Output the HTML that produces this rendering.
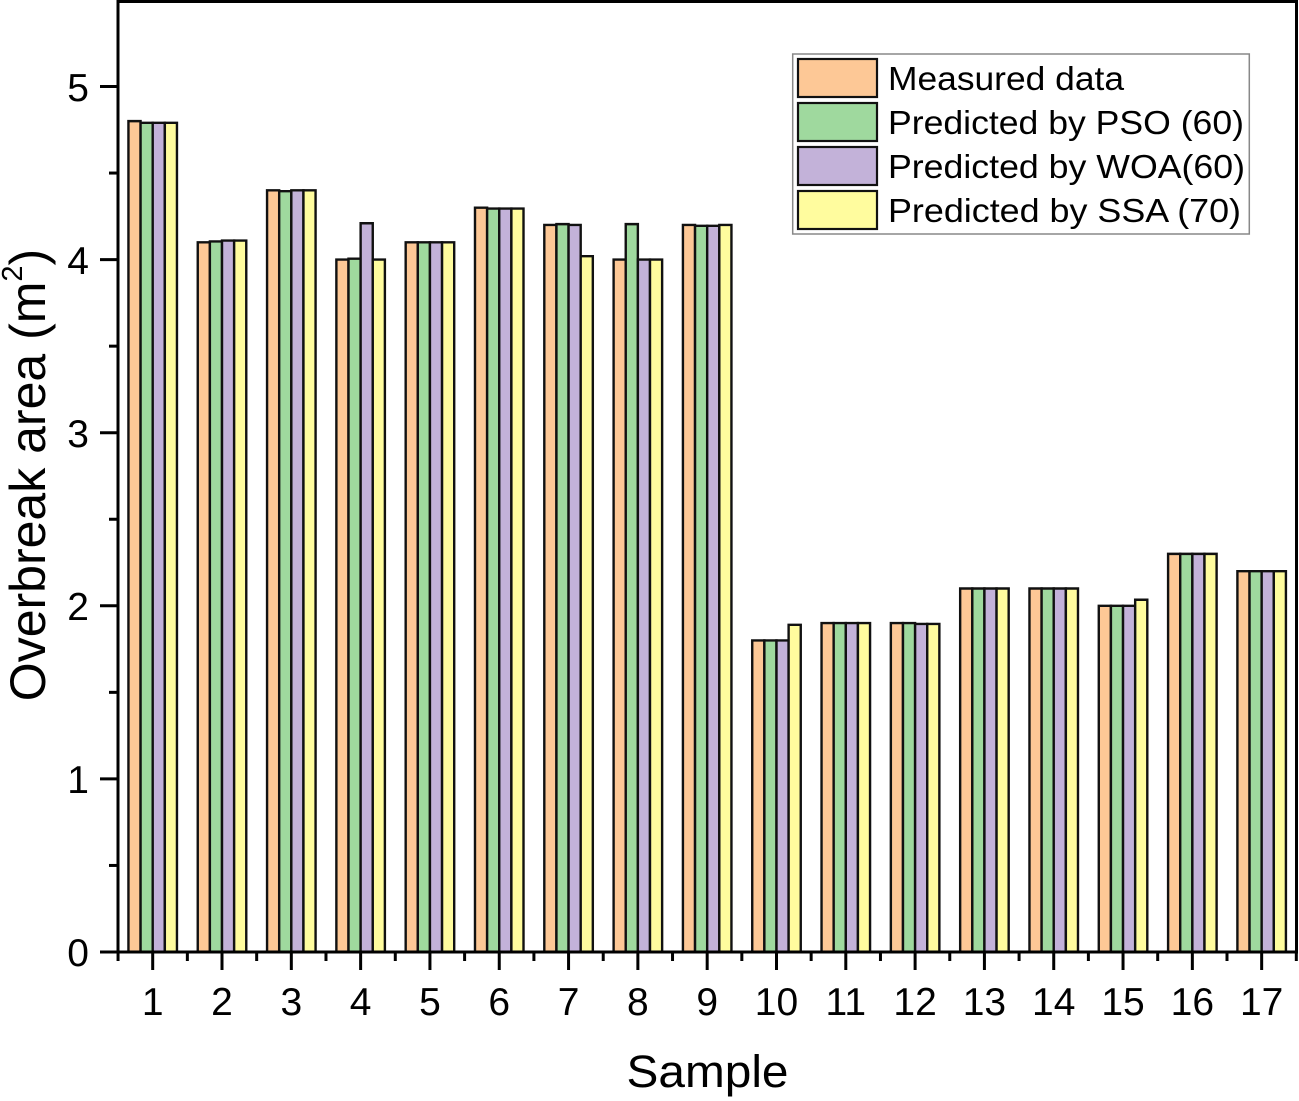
<!DOCTYPE html>
<html>
<head>
<meta charset="utf-8">
<style>
html,body{margin:0;padding:0;background:#fff;}
svg{display:block;}
text{font-family:"Liberation Sans",Arial,sans-serif;fill:#000;}
</style>
</head>
<body>
<svg width="1299" height="1101" viewBox="0 0 1299 1101" xmlns="http://www.w3.org/2000/svg">
<defs>
<style>
.o{fill:#FDC896;}
.g{fill:#9FD99E;}
.p{fill:#C3B2D9;}
.y{fill:#FFFC9E;}
.b rect{stroke:#111;stroke-width:2.4;vector-effect:non-scaling-stroke;}
</style>
</defs>

<!-- bars -->
<g class="b">
<g transform="translate(152.70,952) scale(1,-173.1)"><rect class="o" x="-24.26" y="0" width="12.13" height="4.8"/><rect class="g" x="-12.13" y="0" width="12.13" height="4.79"/><rect class="p" x="0" y="0" width="12.13" height="4.79"/><rect class="y" x="12.13" y="0" width="12.13" height="4.79"/></g>
<g transform="translate(222.01,952) scale(1,-173.1)"><rect class="o" x="-24.26" y="0" width="12.13" height="4.1"/><rect class="g" x="-12.13" y="0" width="12.13" height="4.105"/><rect class="p" x="0" y="0" width="12.13" height="4.11"/><rect class="y" x="12.13" y="0" width="12.13" height="4.11"/></g>
<g transform="translate(291.32,952) scale(1,-173.1)"><rect class="o" x="-24.26" y="0" width="12.13" height="4.4"/><rect class="g" x="-12.13" y="0" width="12.13" height="4.395"/><rect class="p" x="0" y="0" width="12.13" height="4.4"/><rect class="y" x="12.13" y="0" width="12.13" height="4.4"/></g>
<g transform="translate(360.63,952) scale(1,-173.1)"><rect class="o" x="-24.26" y="0" width="12.13" height="4.0"/><rect class="g" x="-12.13" y="0" width="12.13" height="4.005"/><rect class="p" x="0" y="0" width="12.13" height="4.21"/><rect class="y" x="12.13" y="0" width="12.13" height="4.0"/></g>
<g transform="translate(429.94,952) scale(1,-173.1)"><rect class="o" x="-24.26" y="0" width="12.13" height="4.1"/><rect class="g" x="-12.13" y="0" width="12.13" height="4.1"/><rect class="p" x="0" y="0" width="12.13" height="4.1"/><rect class="y" x="12.13" y="0" width="12.13" height="4.1"/></g>
<g transform="translate(499.25,952) scale(1,-173.1)"><rect class="o" x="-24.26" y="0" width="12.13" height="4.3"/><rect class="g" x="-12.13" y="0" width="12.13" height="4.295"/><rect class="p" x="0" y="0" width="12.13" height="4.295"/><rect class="y" x="12.13" y="0" width="12.13" height="4.295"/></g>
<g transform="translate(568.56,952) scale(1,-173.1)"><rect class="o" x="-24.26" y="0" width="12.13" height="4.2"/><rect class="g" x="-12.13" y="0" width="12.13" height="4.205"/><rect class="p" x="0" y="0" width="12.13" height="4.2"/><rect class="y" x="12.13" y="0" width="12.13" height="4.02"/></g>
<g transform="translate(637.87,952) scale(1,-173.1)"><rect class="o" x="-24.26" y="0" width="12.13" height="4.0"/><rect class="g" x="-12.13" y="0" width="12.13" height="4.205"/><rect class="p" x="0" y="0" width="12.13" height="4.0"/><rect class="y" x="12.13" y="0" width="12.13" height="4.0"/></g>
<g transform="translate(707.18,952) scale(1,-173.1)"><rect class="o" x="-24.26" y="0" width="12.13" height="4.2"/><rect class="g" x="-12.13" y="0" width="12.13" height="4.195"/><rect class="p" x="0" y="0" width="12.13" height="4.195"/><rect class="y" x="12.13" y="0" width="12.13" height="4.2"/></g>
<g transform="translate(776.49,952) scale(1,-173.1)"><rect class="o" x="-24.26" y="0" width="12.13" height="1.8"/><rect class="g" x="-12.13" y="0" width="12.13" height="1.8"/><rect class="p" x="0" y="0" width="12.13" height="1.8"/><rect class="y" x="12.13" y="0" width="12.13" height="1.89"/></g>
<g transform="translate(845.80,952) scale(1,-173.1)"><rect class="o" x="-24.26" y="0" width="12.13" height="1.9"/><rect class="g" x="-12.13" y="0" width="12.13" height="1.9"/><rect class="p" x="0" y="0" width="12.13" height="1.9"/><rect class="y" x="12.13" y="0" width="12.13" height="1.9"/></g>
<g transform="translate(915.11,952) scale(1,-173.1)"><rect class="o" x="-24.26" y="0" width="12.13" height="1.9"/><rect class="g" x="-12.13" y="0" width="12.13" height="1.9"/><rect class="p" x="0" y="0" width="12.13" height="1.895"/><rect class="y" x="12.13" y="0" width="12.13" height="1.895"/></g>
<g transform="translate(984.42,952) scale(1,-173.1)"><rect class="o" x="-24.26" y="0" width="12.13" height="2.1"/><rect class="g" x="-12.13" y="0" width="12.13" height="2.1"/><rect class="p" x="0" y="0" width="12.13" height="2.1"/><rect class="y" x="12.13" y="0" width="12.13" height="2.1"/></g>
<g transform="translate(1053.73,952) scale(1,-173.1)"><rect class="o" x="-24.26" y="0" width="12.13" height="2.1"/><rect class="g" x="-12.13" y="0" width="12.13" height="2.1"/><rect class="p" x="0" y="0" width="12.13" height="2.1"/><rect class="y" x="12.13" y="0" width="12.13" height="2.1"/></g>
<g transform="translate(1123.04,952) scale(1,-173.1)"><rect class="o" x="-24.26" y="0" width="12.13" height="2.0"/><rect class="g" x="-12.13" y="0" width="12.13" height="2.0"/><rect class="p" x="0" y="0" width="12.13" height="2.0"/><rect class="y" x="12.13" y="0" width="12.13" height="2.035"/></g>
<g transform="translate(1192.35,952) scale(1,-173.1)"><rect class="o" x="-24.26" y="0" width="12.13" height="2.3"/><rect class="g" x="-12.13" y="0" width="12.13" height="2.3"/><rect class="p" x="0" y="0" width="12.13" height="2.3"/><rect class="y" x="12.13" y="0" width="12.13" height="2.3"/></g>
<g transform="translate(1261.66,952) scale(1,-173.1)"><rect class="o" x="-24.26" y="0" width="12.13" height="2.2"/><rect class="g" x="-12.13" y="0" width="12.13" height="2.2"/><rect class="p" x="0" y="0" width="12.13" height="2.2"/><rect class="y" x="12.13" y="0" width="12.13" height="2.2"/></g>
</g>

<!-- axes frame -->
<g stroke="#000" stroke-width="3" fill="none">
<line x1="118" y1="0" x2="118" y2="953.5"/>
<line x1="116.5" y1="952" x2="1298" y2="952"/>
<line x1="116.5" y1="1.5" x2="1298" y2="1.5"/>
<line x1="1296.5" y1="0" x2="1296.5" y2="953.5"/>
</g>

<!-- y ticks -->
<g stroke="#000" stroke-width="3">
<line x1="100" y1="952" x2="118" y2="952"/>
<line x1="100" y1="778.9" x2="118" y2="778.9"/>
<line x1="100" y1="605.8" x2="118" y2="605.8"/>
<line x1="100" y1="432.7" x2="118" y2="432.7"/>
<line x1="100" y1="259.6" x2="118" y2="259.6"/>
<line x1="100" y1="86.5" x2="118" y2="86.5"/>
<line x1="109" y1="865.45" x2="118" y2="865.45"/>
<line x1="109" y1="692.35" x2="118" y2="692.35"/>
<line x1="109" y1="519.25" x2="118" y2="519.25"/>
<line x1="109" y1="346.15" x2="118" y2="346.15"/>
<line x1="109" y1="173.05" x2="118" y2="173.05"/>
</g>

<!-- x ticks -->
<g stroke="#000" stroke-width="3">
<line x1="152.70" y1="952" x2="152.70" y2="970"/>
<line x1="222.01" y1="952" x2="222.01" y2="970"/>
<line x1="291.32" y1="952" x2="291.32" y2="970"/>
<line x1="360.63" y1="952" x2="360.63" y2="970"/>
<line x1="429.94" y1="952" x2="429.94" y2="970"/>
<line x1="499.25" y1="952" x2="499.25" y2="970"/>
<line x1="568.56" y1="952" x2="568.56" y2="970"/>
<line x1="637.87" y1="952" x2="637.87" y2="970"/>
<line x1="707.18" y1="952" x2="707.18" y2="970"/>
<line x1="776.49" y1="952" x2="776.49" y2="970"/>
<line x1="845.80" y1="952" x2="845.80" y2="970"/>
<line x1="915.11" y1="952" x2="915.11" y2="970"/>
<line x1="984.42" y1="952" x2="984.42" y2="970"/>
<line x1="1053.73" y1="952" x2="1053.73" y2="970"/>
<line x1="1123.04" y1="952" x2="1123.04" y2="970"/>
<line x1="1192.35" y1="952" x2="1192.35" y2="970"/>
<line x1="1261.66" y1="952" x2="1261.66" y2="970"/>
<line x1="118.05" y1="952" x2="118.05" y2="961"/>
<line x1="187.36" y1="952" x2="187.36" y2="961"/>
<line x1="256.67" y1="952" x2="256.67" y2="961"/>
<line x1="325.98" y1="952" x2="325.98" y2="961"/>
<line x1="395.29" y1="952" x2="395.29" y2="961"/>
<line x1="464.60" y1="952" x2="464.60" y2="961"/>
<line x1="533.91" y1="952" x2="533.91" y2="961"/>
<line x1="603.22" y1="952" x2="603.22" y2="961"/>
<line x1="672.53" y1="952" x2="672.53" y2="961"/>
<line x1="741.84" y1="952" x2="741.84" y2="961"/>
<line x1="811.15" y1="952" x2="811.15" y2="961"/>
<line x1="880.46" y1="952" x2="880.46" y2="961"/>
<line x1="949.77" y1="952" x2="949.77" y2="961"/>
<line x1="1019.08" y1="952" x2="1019.08" y2="961"/>
<line x1="1088.39" y1="952" x2="1088.39" y2="961"/>
<line x1="1157.70" y1="952" x2="1157.70" y2="961"/>
<line x1="1227.01" y1="952" x2="1227.01" y2="961"/>
<line x1="1296.32" y1="952" x2="1296.32" y2="961"/>
</g>

<!-- y tick labels -->
<g font-size="39" text-anchor="end">
<text x="89" y="966">0</text>
<text x="89" y="793">1</text>
<text x="89" y="620">2</text>
<text x="89" y="447">3</text>
<text x="89" y="274">4</text>
<text x="89" y="101">5</text>
</g>

<!-- x tick labels -->
<g font-size="39" text-anchor="middle">
<text x="152.70" y="1015">1</text>
<text x="222.01" y="1015">2</text>
<text x="291.32" y="1015">3</text>
<text x="360.63" y="1015">4</text>
<text x="429.94" y="1015">5</text>
<text x="499.25" y="1015">6</text>
<text x="568.56" y="1015">7</text>
<text x="637.87" y="1015">8</text>
<text x="707.18" y="1015">9</text>
<text x="776.49" y="1015">10</text>
<text x="845.80" y="1015">11</text>
<text x="915.11" y="1015">12</text>
<text x="984.42" y="1015">13</text>
<text x="1053.73" y="1015">14</text>
<text x="1123.04" y="1015">15</text>
<text x="1192.35" y="1015">16</text>
<text x="1261.66" y="1015">17</text>
</g>

<!-- axis titles -->
<text x="707.5" y="1087" font-size="45" text-anchor="middle" textLength="162" lengthAdjust="spacingAndGlyphs">Sample</text>
<text transform="translate(45,475) rotate(-90)" font-size="50" text-anchor="middle">Overbreak area (m<tspan font-size="29" dy="-23">2</tspan><tspan dy="23">)</tspan></text>

<!-- legend -->
<rect x="792.7" y="54" width="456.6" height="180" fill="#fff" stroke="#888" stroke-width="1.5"/>
<g stroke="#111" stroke-width="2.2">
<rect class="o" x="798" y="59" width="79" height="38"/>
<rect class="g" x="798" y="103" width="79" height="38"/>
<rect class="p" x="798" y="147" width="79" height="38"/>
<rect class="y" x="798" y="191" width="79" height="38"/>
</g>
<g font-size="33">
<text x="888" y="90" textLength="236" lengthAdjust="spacingAndGlyphs">Measured data</text>
<text x="888" y="134" textLength="356" lengthAdjust="spacingAndGlyphs">Predicted by PSO (60)</text>
<text x="888" y="178" textLength="357" lengthAdjust="spacingAndGlyphs">Predicted by WOA(60)</text>
<text x="888" y="222" textLength="353" lengthAdjust="spacingAndGlyphs">Predicted by SSA (70)</text>
</g>
</svg>
</body>
</html>
